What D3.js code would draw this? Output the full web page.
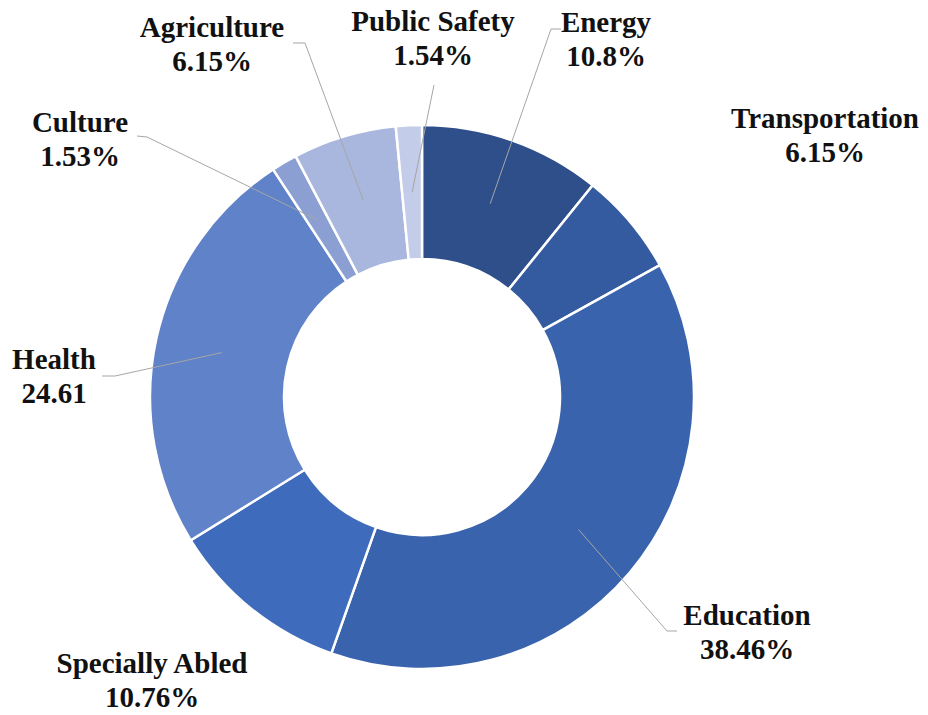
<!DOCTYPE html>
<html>
<head>
<meta charset="utf-8">
<script src="https://cdn.jsdelivr.net/npm/d3@7"></script>
<style>
  html, body { margin: 0; padding: 0; background: #fff; }
  svg { display: block; }
  .lbl { font-family: "Liberation Serif", "Times New Roman", serif; font-weight: bold; font-size: 29px; fill: #111; }
</style>
</head>
<body>
<svg id="chart" width="928" height="715"></svg>
<script>
// Sector shares of the allocation, clockwise from 12 o'clock
const categories = ["Energy", "Transportation", "Education", "Specially Abled", "Health", "Culture", "Agriculture", "Public Safety"];
const values = [10.8, 6.15, 38.46, 10.76, 24.61, 1.53, 6.15, 1.54];
const valueLabels = ["10.8%", "6.15%", "38.46%", "10.76%", "24.61", "1.53%", "6.15%", "1.54%"];
const colors = ["#2f4f8b", "#345a9f", "#3a63ae", "#3e6bbc", "#5f82c8", "#8b9fd3", "#a9b7de", "#c3cce8"];

// Label placement: text centre x, first baseline y, optional leader start (elbow points)
const labelLayout = [
  { x: 606, y: 32,  leader: [[561, 29], [551, 29]] },
  { x: 825, y: 128, leader: null },
  { x: 747, y: 625, leader: [[677, 631], [667, 631]] },
  { x: 152, y: 673, leader: null },
  { x: 54,  y: 369, leader: [[102, 376], [115, 376]] },
  { x: 80,  y: 132, leader: [[137, 136], [147, 137]] },
  { x: 212, y: 37,  leader: [[293, 43], [305, 43]] },
  { x: 433, y: 31,  leader: [[434, 85]] }
];

const width = 928, height = 715;
const cx = 422, cy = 397;
const outerR = 272, innerR = 138;

const svg = d3.select("#chart");
const g = svg.append("g").attr("transform", `translate(${cx},${cy})`);

const pie = d3.pie().sort(null).value(d => d.value).startAngle(0).endAngle(2 * Math.PI);
const arc = d3.arc().innerRadius(innerR).outerRadius(outerR);
const data = categories.map((c, i) => ({ name: c, value: values[i], label: valueLabels[i], color: colors[i], layout: labelLayout[i] }));
const arcs = pie(data);

g.selectAll("path.slice")
  .data(arcs)
  .join("path")
  .attr("class", "slice")
  .attr("d", arc)
  .attr("fill", d => d.data.color)
  .attr("stroke", "#fff")
  .attr("stroke-width", 2.5)
  .attr("stroke-linejoin", "round");

// Leader lines from label to the slice centroid
const line = d3.line();
svg.selectAll("path.leader")
  .data(arcs.filter(d => d.data.layout.leader))
  .join("path")
  .attr("class", "leader")
  .attr("fill", "none")
  .attr("stroke", "#a6a6a6")
  .attr("stroke-width", 1)
  .attr("d", d => {
    const c = arc.centroid(d);
    return line([...d.data.layout.leader, [cx + c[0], cy + c[1]]]);
  });

// Two-line labels: category name and share
const labels = svg.selectAll("text.lbl")
  .data(arcs)
  .join("text")
  .attr("class", "lbl")
  .attr("text-anchor", "middle")
  .attr("x", d => d.data.layout.x)
  .attr("y", d => d.data.layout.y);
labels.append("tspan").attr("x", d => d.data.layout.x).text(d => d.data.name);
labels.append("tspan").attr("x", d => d.data.layout.x).attr("dy", 33.5).text(d => d.data.label);
</script>
</body>
</html>
